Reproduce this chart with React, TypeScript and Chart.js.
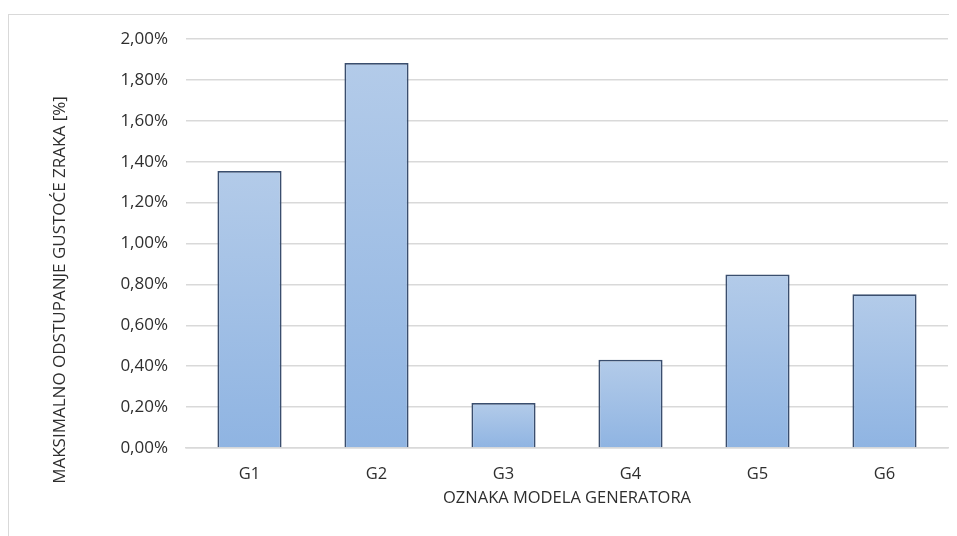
import React, { useEffect, useRef } from "react";
import { Chart, registerables } from "chart.js";

Chart.register(...registerables);

const categories = ["G1", "G2", "G3", "G4", "G5", "G6"];
const values = [1.355, 1.883, 0.22, 0.432, 0.849, 0.752];
const yTickValues = [0, 0.2, 0.4, 0.6, 0.8, 1.0, 1.2, 1.4, 1.6, 1.8, 2.0];
const xTitle = "OZNAKA MODELA GENERATORA";
const yTitle = "MAKSIMALNO ODSTUPANJE GUSTOĆE ZRAKA [%]";

const FONT = "'Open Sans', sans-serif";
const TEXT = "#2e2e2e";

const yTitlePlugin = {
  id: "yTitlePlugin",
  afterDraw(chart: any) {
    const { ctx, chartArea } = chart;
    ctx.save();
    ctx.font = `17px ${FONT}`;
    ctx.fillStyle = TEXT;
    ctx.textAlign = "center";
    ctx.textBaseline = "middle";
    ctx.translate(52, chartArea.bottom - 158);
    ctx.rotate(-Math.PI / 2);
    ctx.fillText(yTitle, 0, 0);
    ctx.restore();
  },
};

export default function App() {
  const ref = useRef<HTMLCanvasElement>(null);
  useEffect(() => {
    if (!ref.current) return;
    const chart = new Chart(ref.current, {
      type: "bar",
      data: {
        labels: categories,
        datasets: [
          {
            data: values,
            backgroundColor: (c: any) => {
              const ch = c.chart;
              const ys = ch.scales?.y;
              if (!ch.chartArea || !ys || c.raw == null) return "#a3bfe6";
              const top = ys.getPixelForValue(c.raw);
              const base = ys.getPixelForValue(0);
              if (!isFinite(top) || !isFinite(base) || top === base) return "#a3bfe6";
              const g = ch.ctx.createLinearGradient(0, top, 0, base);
              g.addColorStop(0, "#b3cbe9");
              g.addColorStop(1, "#8fb4e2");
              return g;
            },
            borderColor: "#3a4e6e",
            borderWidth: 1.8,
            borderSkipped: "bottom",
            barPercentage: 0.505,
            categoryPercentage: 1,
          },
        ],
      },
      options: {
        animation: false,
        responsive: false,
        layout: { padding: { left: 0, right: 9, top: 31, bottom: 0 } },
        plugins: { legend: { display: false }, tooltip: { enabled: false } },
        scales: {
          x: {
            grid: { display: false, drawTicks: false },
            border: { display: true, color: "#d9d9d9", width: 1.5 },
            ticks: { color: TEXT, font: { family: FONT, size: 16.5 }, padding: 16 },
            title: {
              display: true,
              text: xTitle,
              color: TEXT,
              font: { family: FONT, size: 16.5 },
              padding: { top: 28, bottom: 28 },
            },
            afterFit: (s: any) => {
              s.height = 88;
            },
          },
          y: {
            min: 0,
            max: 2,
            afterBuildTicks: (s: any) => {
              s.ticks = yTickValues.map((v) => ({ value: v }));
            },
            grid: { color: "#d9d9d9", lineWidth: 1.5, drawTicks: false },
            border: { display: false },
            ticks: {
              color: TEXT,
              font: { family: FONT, size: 17 },
              padding: 18,
              callback: (v: any) => Number(v).toFixed(2).replace(".", ",") + "%",
            },
            afterFit: (s: any) => {
              s.width = 178;
            },
          },
        },
      },
      plugins: [yTitlePlugin],
    });
    return () => chart.destroy();
  }, []);

  return (
    <div style={{ position: "relative", width: 949, height: 528 }}>
      <div
        style={{
          position: "absolute",
          left: 0,
          top: 6,
          right: -20,
          bottom: -20,
          borderTop: "1.5px solid #d9d9d9",
          borderLeft: "1.5px solid #d9d9d9",
        }}
      />
      <canvas ref={ref} width={949} height={528} style={{ position: "absolute", left: 0, top: 0, display: "block" }} />
    </div>
  );
}
